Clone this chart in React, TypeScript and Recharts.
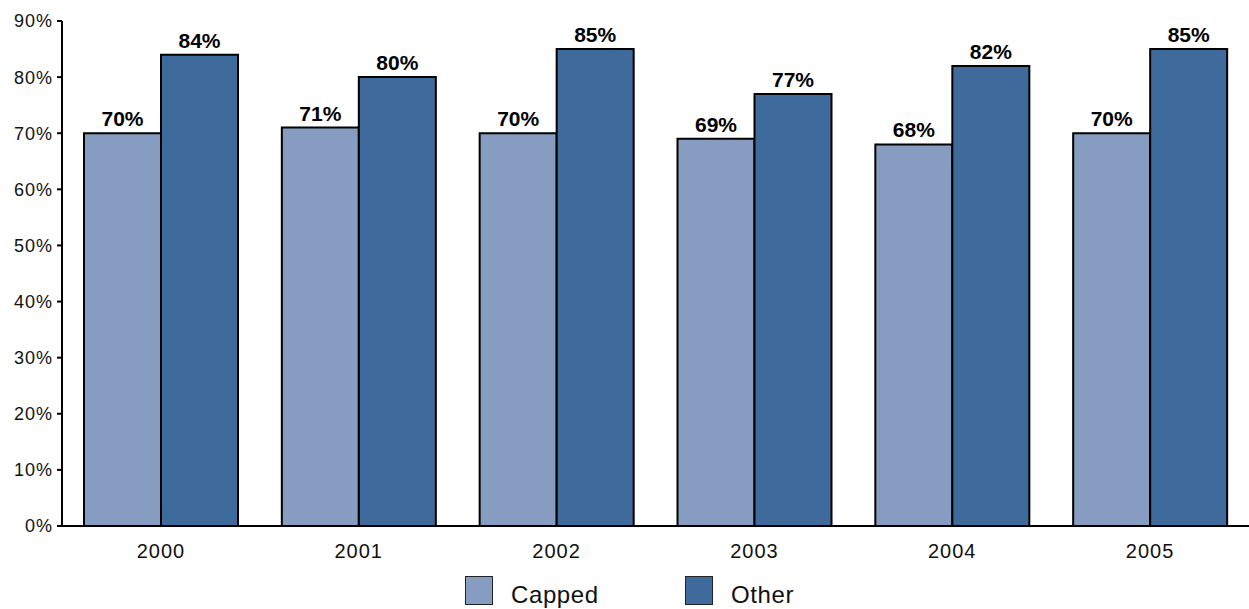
import { BarChart, Bar, XAxis, YAxis, Legend, LabelList } from "recharts";

const YEARS = ["2000", "2001", "2002", "2003", "2004", "2005"];
const CAPPED = [70, 71, 70, 69, 68, 70];
const OTHER = [84, 80, 85, 77, 82, 85];
const Y_TICKS = [0, 10, 20, 30, 40, 50, 60, 70, 80, 90];

const CAPPED_COLOR = "#869cc0";
const OTHER_COLOR = "#3f6a9c";
const FONT = "'Liberation Sans', Arial, sans-serif";

const data = YEARS.map((year, i) => ({
  year,
  capped: CAPPED[i],
  other: OTHER[i],
}));

const LEGEND_ITEMS = [
  { label: "Capped", color: CAPPED_COLOR, width: 174 },
  { label: "Other", color: OTHER_COLOR, width: 100 },
];

const LegendBox = () => (
  <div
    style={{
      display: "flex",
      alignItems: "flex-end",
      paddingLeft: 465,
      fontFamily: FONT,
      fontSize: 24,
      lineHeight: "24px",
      letterSpacing: 0.6,
      color: "#111",
    }}
  >
    {LEGEND_ITEMS.map((item) => (
      <div key={item.label} style={{ display: "flex", alignItems: "flex-end" }}>
        <span
          style={{
            width: 26,
            height: 27,
            background: item.color,
            border: "1.5px solid #222",
            marginRight: 18,
            display: "inline-block",
          }}
        />
        <span style={{ width: item.width, marginBottom: -2 }}>{item.label}</span>
      </div>
    ))}
  </div>
);

export default function App() {
  return (
    <div style={{ position: "fixed", left: 0, top: 0, background: "#fff" }}>
      <BarChart
        width={1249}
        height={609}
        data={data}
        margin={{ top: 21, right: 0, bottom: 0, left: 0 }}
        barCategoryGap={22}
        barGap={0}
      >
        <YAxis
          domain={[0, 90]}
          ticks={Y_TICKS}
          interval={0}
          width={62}
          tickFormatter={(v) => `${v}%`}
          tick={{ fill: "#111", fontSize: 18, fontFamily: FONT, letterSpacing: 1 }}
          tickSize={5}
          tickMargin={4}
          axisLine={{ stroke: "#000", strokeWidth: 2 }}
          tickLine={{ stroke: "#000", strokeWidth: 2 }}
        />
        <XAxis
          dataKey="year"
          height={50}
          tickLine={false}
          tick={{ fill: "#111", fontSize: 20, fontFamily: FONT, letterSpacing: 1 }}
          tickMargin={12}
          axisLine={{ stroke: "#000", strokeWidth: 2 }}
        />
        <Legend
          verticalAlign="bottom"
          height={33}
          wrapperStyle={{ left: 0, width: 1249, top: 576 }}
          content={() => <LegendBox />}
        />
        <Bar
          dataKey="capped"
          name="Capped"
          fill={CAPPED_COLOR}
          stroke="#000"
          strokeWidth={2}
          isAnimationActive={false}
        >
          <LabelList
            dataKey="capped"
            position="top"
            offset={7}
            formatter={(v: number) => `${v}%`}
            style={{ fill: "#000", fontSize: 21, fontWeight: 700, fontFamily: FONT }}
          />
        </Bar>
        <Bar
          dataKey="other"
          name="Other"
          fill={OTHER_COLOR}
          stroke="#000"
          strokeWidth={2}
          isAnimationActive={false}
        >
          <LabelList
            dataKey="other"
            position="top"
            offset={7}
            formatter={(v: number) => `${v}%`}
            style={{ fill: "#000", fontSize: 21, fontWeight: 700, fontFamily: FONT }}
          />
        </Bar>
      </BarChart>
    </div>
  );
}
